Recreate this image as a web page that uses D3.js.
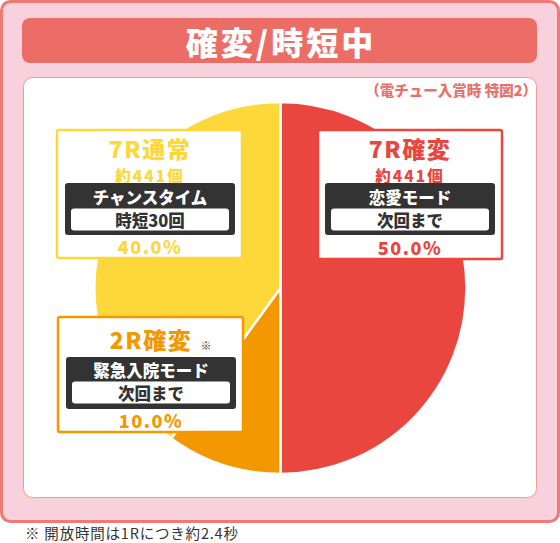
<!DOCTYPE html>
<html>
<head>
<meta charset="utf-8">
<script src="https://cdn.jsdelivr.net/npm/d3@7/dist/d3.min.js"></script>
<style>
  html, body { margin: 0; padding: 0; background: #ffffff; }
  svg { display: block; }
  text { font-family: "Noto Sans CJK JP", "Noto Sans", sans-serif; }
</style>
</head>
<body>
<svg id="chart" width="560" height="543"></svg>
<script>
// ---- data ----
const categories = ["7R確変", "2R確変", "7R通常"];
const shares = [50.0, 10.0, 40.0];
const payouts = ["約441個", "", "約441個"];
const modes = ["恋愛モード", "緊急入院モード", "チャンスタイム"];
const spans = ["次回まで", "次回まで", "時短30回"];
const marks = ["", "※", ""];
const sliceColors = ["#e9463f", "#f39800", "#fcd83a"];
const titleText = "確変/時短中";
const subtitleText = "（電チュー入賞時 特図2）";
const footnoteText = "※ 開放時間は1Rにつき約2.4秒";

// ---- layout (annotation boxes) ----
const layout = {
  "7R確変": { x: 318, y: 130, w: 184, h: 129, cx: 410, titleY: 148, countY: 175, darkY: 183, modeY: 197, spanY: 219.5, pctY: 247 },
  "2R確変": { x: 58,  y: 317, w: 185, h: 115, cx: 151, titleY: 339, countY: null, darkY: 357, modeY: 370, spanY: 392.5, pctY: 420 },
  "7R通常": { x: 57,  y: 130, w: 185, h: 128, cx: 150, titleY: 147.5, countY: 175, darkY: 183, modeY: 197, spanY: 219.5, pctY: 246 }
};

const data = categories.map((c, i) => ({
  category: c, value: shares[i], payout: payouts[i], mode: modes[i],
  span: spans[i], mark: marks[i], color: sliceColors[i]
}));

const svg = d3.select("#chart");

// outer frame
svg.append("rect").attr("x", 1.5).attr("y", 1.5).attr("width", 557).attr("height", 520)
  .attr("rx", 9).attr("fill", "#f9d1dc").attr("stroke", "#ef7a74").attr("stroke-width", 3);

// title bar
svg.append("rect").attr("x", 22).attr("y", 18).attr("width", 515).attr("height", 45)
  .attr("rx", 8).attr("fill", "#ec6d66");
svg.append("text").attr("x", 281).attr("y", 41).attr("text-anchor", "middle")
  .attr("dominant-baseline", "central").attr("fill", "#ffffff").attr("font-size", 32)
  .attr("font-weight", 900).attr("letter-spacing", 3).text(titleText);

// inner panel
svg.append("rect").attr("x", 23.5).attr("y", 77.5).attr("width", 513).attr("height", 420)
  .attr("rx", 9).attr("fill", "#ffffff").attr("stroke", "#f29a94").attr("stroke-width", 1);

svg.append("text").attr("x", 537).attr("y", 89).attr("text-anchor", "end")
  .attr("dominant-baseline", "central").attr("fill", "#e9716b").attr("font-size", 14.5)
  .attr("font-weight", 900).text(subtitleText);

// pie
const cx = 280.5, cy = 288, R = 186;
const pie = d3.pie().sort(null).value(d => d.value);
const arc = d3.arc().innerRadius(0).outerRadius(R);
const g = svg.append("g").attr("transform", `translate(${cx},${cy})`);
g.selectAll("path").data(pie(data)).join("path")
  .attr("d", arc).attr("fill", d => d.data.color)
  .attr("stroke", "#ffffff").attr("stroke-width", 2.5).attr("stroke-linejoin", "round");

// annotation boxes
data.forEach(d => {
  const L = layout[d.category];
  const bg = svg.append("g");
  bg.append("rect").attr("x", L.x).attr("y", L.y).attr("width", L.w).attr("height", L.h)
    .attr("rx", 2).attr("fill", "#ffffff").attr("stroke", d.color).attr("stroke-width", 2.5);

  bg.append("text").attr("x", L.cx).attr("y", L.titleY).attr("text-anchor", "middle")
    .attr("dominant-baseline", "central").attr("fill", d.color).attr("font-size", 23)
    .attr("font-weight", 900).attr("letter-spacing", 1.5).text(d.category);
  if (d.mark) {
    bg.append("text").attr("x", L.cx + 55).attr("y", L.titleY + 6).attr("text-anchor", "middle")
      .attr("dominant-baseline", "central").attr("fill", "#333333").attr("font-size", 11)
      .attr("font-weight", 700).text(d.mark);
  }
  if (d.payout) {
    bg.append("text").attr("x", L.cx).attr("y", L.countY).attr("text-anchor", "middle")
      .attr("dominant-baseline", "central").attr("fill", d.color).attr("font-size", 15.5)
      .attr("font-weight", 900).attr("letter-spacing", 2).text(d.payout);
  }
  // dark mode box
  bg.append("rect").attr("x", L.cx - 85).attr("y", L.darkY).attr("width", 170).attr("height", 52)
    .attr("rx", 3).attr("fill", "#333333");
  bg.append("text").attr("x", L.cx).attr("y", L.modeY).attr("text-anchor", "middle")
    .attr("dominant-baseline", "central").attr("fill", "#ffffff").attr("font-size", 16.5)
    .attr("font-weight", 900).text(d.mode);
  bg.append("rect").attr("x", L.cx - 79).attr("y", L.spanY - 11).attr("width", 158).attr("height", 22)
    .attr("rx", 3).attr("fill", "#ffffff");
  bg.append("text").attr("x", L.cx).attr("y", L.spanY).attr("text-anchor", "middle")
    .attr("dominant-baseline", "central").attr("fill", "#333333").attr("font-size", 16.5)
    .attr("font-weight", 900).text(d.span);
  bg.append("text").attr("x", L.cx).attr("y", L.pctY).attr("text-anchor", "middle")
    .attr("dominant-baseline", "central").attr("fill", d.color).attr("font-size", 18)
    .attr("font-weight", 900).attr("letter-spacing", 1.5).text(d3.format(".1f")(d.value) + "%");
});

// footnote
svg.append("text").attr("x", 25).attr("y", 532).attr("dominant-baseline", "central")
  .attr("fill", "#333333").attr("font-size", 14.5).attr("letter-spacing", 0.8).text(footnoteText);
</script>
</body>
</html>
